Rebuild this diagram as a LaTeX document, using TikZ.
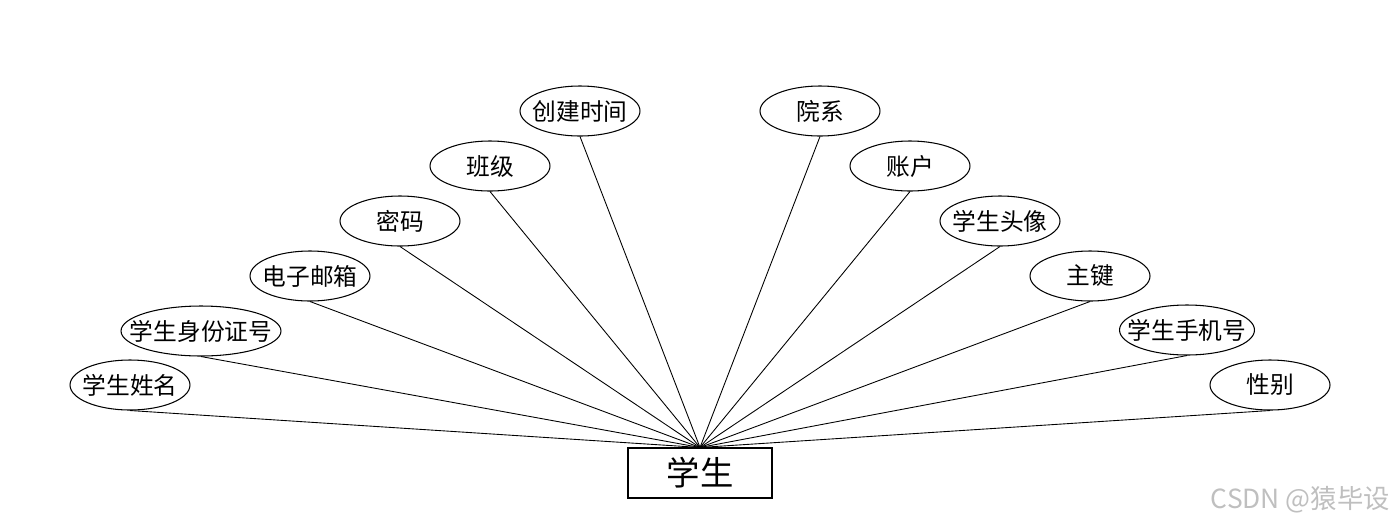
\documentclass[tikz,border=0pt]{standalone}
\usepackage{fontspec}
\setmainfont{Noto Sans CJK SC}
\usetikzlibrary{shapes.geometric, positioning}

\tikzset{
  attr/.style={ellipse, draw, line width=0.6pt, minimum width=2.4cm,
               minimum height=1cm, inner sep=0pt,
               label={[font=\fontsize{13.5}{15}\selectfont]center:#1}},
  entity/.style={rectangle, draw, line width=0.6pt, minimum width=2.88cm,
                 minimum height=1cm, font=\fontsize{19}{22}\selectfont},
  link/.style={line width=0.5pt}
}

\begin{document}
\begin{tikzpicture}[x=0.02cm, y=-0.02cm]
  \useasboundingbox (0,0) rectangle (1400,528);

  % entity
  \node[entity] (stu) at (700,473) {学生};

  % attributes, left side
  \node[attr=学生姓名] (xm) at (130,385) {};
  \node[attr=学生身份证号, minimum width=3.2cm] (sfz) at (201,331) {};
  \node[attr=电子邮箱] (yx) at (310,276) {};
  \node[attr=密码] (mm) at (400,221) {};
  \node[attr=班级] (bj) at (490,166) {};
  \node[attr=创建时间] (cjsj) at (580,111) {};

  % attributes, right side
  \node[attr=院系] (ys) at (820,111) {};
  \node[attr=账户] (zh) at (910,166) {};
  \node[attr=学生头像] (tx) at (1000,221) {};
  \node[attr=主键] (zj) at (1090,276) {};
  \node[attr=学生手机号, minimum width=2.7cm] (sjh) at (1187,330) {};
  \node[attr=性别] (xb) at (1270,385) {};

  \foreach \a in {xm, sfz, yx, mm, bj, cjsj, ys, zh, tx, zj, sjh, xb}
    \draw[link] (\a.south) -- (stu.north);

  % watermark
  \node[font=\fontsize{15}{17}\selectfont, text=black!25, anchor=east]
    (wm) at (1396,500) {CSDN @猿毕设};
\end{tikzpicture}
\end{document}
